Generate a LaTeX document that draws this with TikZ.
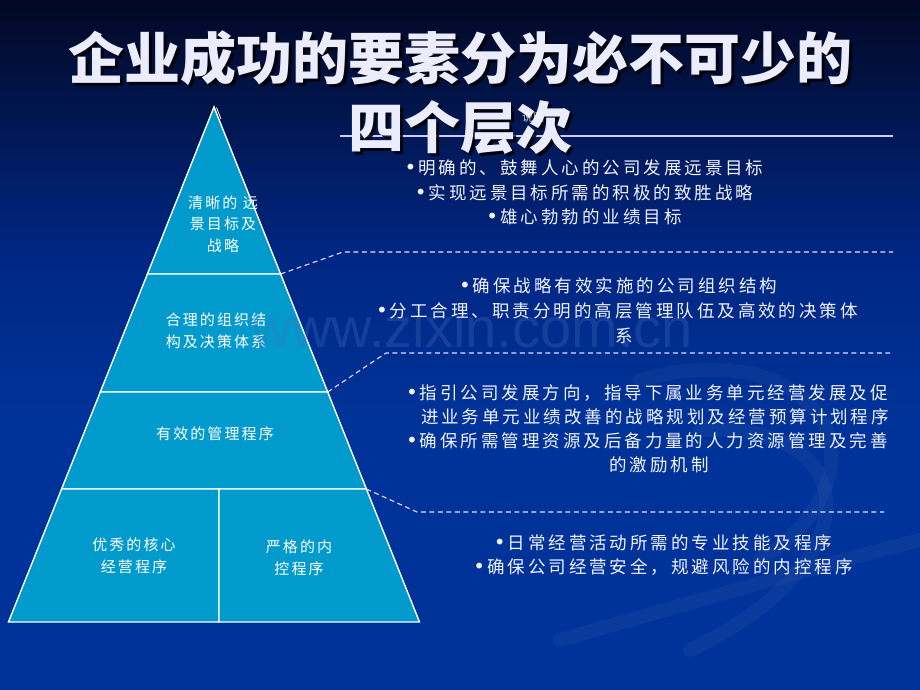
\documentclass[tikz,border=0pt]{standalone}
\usepackage{fontspec}
\setmainfont{Noto Sans CJK SC}
\newfontfamily\titlefont{Noto Sans CJK SC}
\newfontfamily\bodyfont[LetterSpace=17]{Noto Sans CJK SC}
\newfontfamily\labelfont[LetterSpace=14]{Noto Sans CJK SC}
\newfontfamily\notefont{Noto Sans CJK SC}
\newfontfamily\bulfont{DejaVu Sans}
\newfontfamily\wmfont{Liberation Sans}
\definecolor{pyr}{RGB}{0,155,204}
\definecolor{bgtop}{RGB}{2,8,36}
\definecolor{bgmid}{RGB}{0,38,130}
\definecolor{bgbot}{RGB}{0,51,153}
\definecolor{txt}{RGB}{242,242,255}
\definecolor{titlec}{RGB}{236,236,255}
\definecolor{wm}{RGB}{70,110,190}
\newcommand{\bul}{{\bulfont\fontsize{20}{20}\selectfont •}\hspace{2pt}}
\begin{document}
\begin{tikzpicture}[x=1pt,y=-1pt,
  every node/.style={inner sep=0pt,outer sep=0pt},
  titletext/.style={text=titlec,font=\titlefont\bfseries\fontsize{56}{60}\selectfont,anchor=center},
  titleshadow/.style={text=black,opacity=0.85,font=\titlefont\bfseries\fontsize{56}{60}\selectfont,anchor=center},
  bodytext/.style={text=txt,font=\bodyfont\fontsize{17.5}{20}\selectfont},
  pyrtext/.style={text=white,font=\labelfont\fontsize{15}{21.5}\selectfont,align=center,anchor=center},
  layer/.style={fill=pyr,draw=white,line width=1.4pt,line join=miter},
  leader/.style={draw=white!88!blue,line width=1.1pt,dash pattern=on 5pt off 3.5pt},
  swoosh/.style={draw=white,opacity=0.035,line width=14pt,line cap=round},
]
\useasboundingbox (0,0) rectangle (920,690);
% background
\fill[bgbot] (0,0) rectangle (920,690);
\shade[top color=bgtop,bottom color=bgmid] (0,0) rectangle (920,250);
\shade[top color=bgmid,bottom color=bgbot] (0,249.5) rectangle (920,420);
\draw[swoosh] (640,380) .. controls (820,330) and (900,470) .. (760,560);
\draw[swoosh] (700,430) .. controls (860,420) and (880,560) .. (690,650);
\draw[swoosh] (560,640) .. controls (700,600) and (840,560) .. (920,540);

% pyramid
\coordinate (apex) at (214,107);
\coordinate (l1L) at (147.4,274); \coordinate (l1R) at (280.6,274);
\coordinate (l2L) at (100.3,392); \coordinate (l2R) at (327.7,392);
\coordinate (l3L) at (61.6,489);  \coordinate (l3R) at (366.4,489);
\coordinate (l3M) at (219,489);
\coordinate (bL) at (8.5,622); \coordinate (bR) at (419.5,622); \coordinate (bM) at (219,622);
\draw[layer] (apex) -- (l1R) -- (l1L) -- cycle;
\draw[layer] (l1L) -- (l1R) -- (l2R) -- (l2L) -- cycle;
\draw[layer] (l2L) -- (l2R) -- (l3R) -- (l3L) -- cycle;
\draw[layer] (l3L) -- (l3M) -- (bM) -- (bL) -- cycle;
\draw[layer] (l3M) -- (l3R) -- (bR) -- (bM) -- cycle;
\draw[white,line width=0.8pt] (216.5,107.5) -- (221,119);

\node[pyrtext] (p1) at (223,224) {清晰的 远\\景目标及\\战略};
\node[pyrtext] (p2) at (216,331) {合理的组织结\\构及决策体系};
\node[pyrtext] (p3) at (215,434) {有效的管理程序};
\node[pyrtext] (p4) at (134,556) {优秀的核心\\经营程序};
\node[pyrtext] (p5) at (299,558) {严格的内\\控程序};

% leaders
\coordinate (c1b) at (343,252); \coordinate (c1e) at (893,252);
\coordinate (c2b) at (386,353); \coordinate (c2e) at (890,353);
\coordinate (c3b) at (417,512); \coordinate (c3e) at (884,512);
\draw[leader] (l1R) -- (c1b) -- (c1e);
\draw[leader] (l2R) -- (c2b) -- (c2e);
\draw[leader] (l3R) -- (c3b) -- (c3e);

% watermark
\node[text=wm,opacity=0.3,font=\wmfont\fontsize{56}{60}\selectfont,anchor=base] (wm) at (472,347) {www.zixin.com.cn};

% title
\coordinate (ul1) at (340,136); \coordinate (ul2) at (893,136);
\draw[white!80!blue,line width=1.3pt] (ul1) -- (ul2);
\node[titleshadow] (t1s) at (463,61) {企业成功的要素分为必不可少的};
\node[titletext] (t1) at (460,58) {企业成功的要素分为必不可少的};
\node[titleshadow] (t2s) at (463,130) {四个层次};
\node[titletext] (t2) at (460,127) {四个层次};
\node[text=white,opacity=0.75,font=\notefont\fontsize{11}{12}\selectfont] (note) at (533,117) {说明};

% block 1
\node[bodytext,anchor=center] (a1) at (584,168) {\bul 明确的、鼓舞人心的公司发展远景目标};
\node[bodytext,anchor=center] (a2) at (584,193) {\bul 实现远景目标所需的积极的致胜战略};
\node[bodytext,anchor=center] (a3) at (584,217) {\bul 雄心勃勃的业绩目标};
% block 2
\node[bodytext,anchor=center] (b1) at (618,286) {\bul 确保战略有效实施的公司组织结构};
\node[bodytext,anchor=center] (b2) at (617,311) {\bul 分工合理、职责分明的高层管理队伍及高效的决策体};
\node[bodytext,anchor=center] (b3) at (624,336) {系};
% block 3
\node[bodytext,anchor=west] (d1) at (406,393) {\bul 指引公司发展方向，指导下属业务单元经营发展及促};
\node[bodytext,anchor=west] (d2) at (421,417) {进业务单元业绩改善的战略规划及经营预算计划程序};
\node[bodytext,anchor=west] (d3) at (406,441) {\bul 确保所需管理资源及后备力量的人力资源管理及完善};
\node[bodytext,anchor=center] (d4) at (659,465) {的激励机制};
% block 4
\node[bodytext,anchor=center] (e1) at (663,543) {\bul 日常经营活动所需的专业技能及程序};
\node[bodytext,anchor=center] (e2) at (663,567) {\bul 确保公司经营安全，规避风险的内控程序};
\end{tikzpicture}
\end{document}
